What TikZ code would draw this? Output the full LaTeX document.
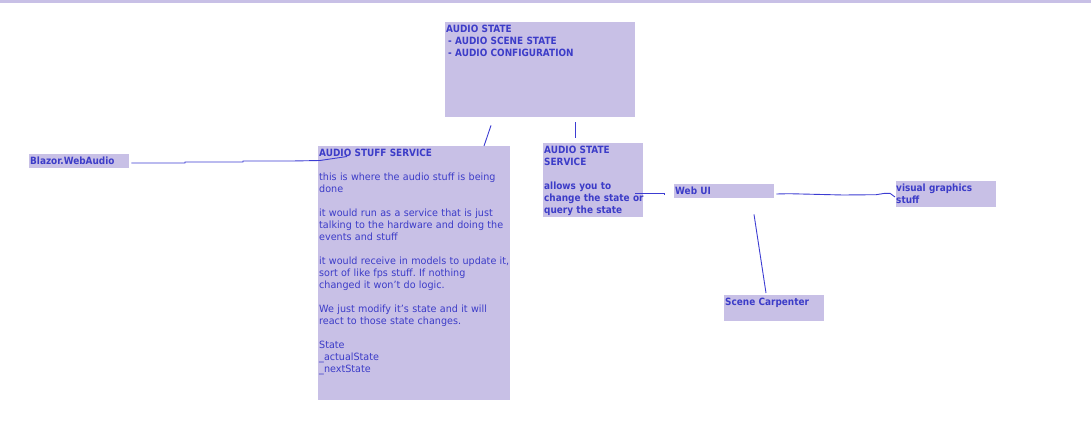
\documentclass[tikz,border=0pt]{standalone}
\usepackage{fontspec}
\setmainfont{DejaVu Sans}[UprightFeatures={FakeStretch=0.96}, BoldFeatures={FakeStretch=0.89}]
\usetikzlibrary{calc}
\definecolor{boxfill}{RGB}{200,192,230}
\definecolor{txtblue}{RGB}{60,60,200}
\definecolor{linecol}{RGB}{60,60,210}
\newcommand{\apos}{\symbol{39}}
\frenchspacing
\begin{document}
\begin{tikzpicture}[x=1pt,y=-1pt,
  box/.style={fill=boxfill, draw=none, inner sep=0pt, anchor=north west},
  txt/.style={text=txtblue, inner sep=0pt, anchor=base west, align=left, text width=#1, font=\fontsize{10}{12}\selectfont},
  txt/.default=200pt,
  conn/.style={draw=linecol, line width=0.9pt}]
\useasboundingbox (0,0) rectangle (1091,442);
\fill[boxfill] (0,0) rectangle (1091,3);
% boxes
\node[box, minimum width=190pt, minimum height=95pt] (as) at (445,22) {};
\node[box, minimum width=192pt, minimum height=254pt] (ss) at (318,146) {};
\node[box, minimum width=100pt, minimum height=74pt] (ass) at (543,143) {};
\node[box, minimum width=100pt, minimum height=14pt] (bw) at (29,154) {};
\node[box, minimum width=100pt, minimum height=14pt] (web) at (674,184) {};
\node[box, minimum width=100pt, minimum height=26pt] (vis) at (896,181) {};
\node[box, minimum width=100pt, minimum height=26pt] (sc) at (724,295) {};
% texts
\node[txt] (ast) at ([shift={(1,10.5)}]as.north west) {\bfseries AUDIO STATE\\\hspace{2pt}- AUDIO SCENE STATE\\\hspace{2pt}- AUDIO CONFIGURATION};
\node[txt] (sst) at ([shift={(1,10)}]ss.north west) {\textbf{AUDIO STUFF SERVICE}\\[12pt]
this is where the audio stuff is being\\done\\[12pt]
it would run as a service that is just\\talking to the hardware and doing the\\events and stuff\\[12pt]
it would receive in models to update it,\\sort of like fps stuff. If nothing\\changed it won\apos t do logic.\\[12pt]
We just modify it\apos s state and it will\\react to those state changes.\\[12pt]
State\\\_actualState\\\_nextState};
\node[txt] (asst) at ([shift={(1,10)}]ass.north west) {\bfseries AUDIO STATE\\SERVICE\\[12pt]allows you to\\change the state or\\query the state};
\node[txt] (bwt) at ([shift={(1,10)}]bw.north west) {\bfseries Blazor.WebAudio};
\node[txt] (webt) at ([shift={(1,10)}]web.north west) {\bfseries Web UI};
\node[txt] (vist) at ([shift={(0,10)}]vis.north west) {\bfseries visual graphics\\stuff};
\node[txt] (sct) at ([shift={(1,10)}]sc.north west) {\bfseries Scene Carpenter};
% connectors
\draw[conn] ([shift={(46,8)}]as.south west) -- ([shift={(166,0)}]ss.north west);
\draw[conn] ([shift={(130,5)}]as.south west) -- ([shift={(32,-5)}]ass.north west);
\draw[conn] ([shift={(2,9)}]bw.north east) -- (185,163) -- (185,162) -- (243,162) -- (243,161) -- (292,161) -- (320,160.5) -- (330,159) -- ([shift={(29,10.5)}]ss.north west);
\draw[conn] ([shift={(-8,50)}]ass.north east) -- (664,193) -- ([shift={(-10,11)}]web.north west);
\draw[conn] ([shift={(2,10)}]web.north east) -- (789,193.7) -- (843,195) -- (876,194.7) -- (885,193.3) -- (890,193.3) -- ([shift={(-1,16)}]vis.north west);
\draw[conn] ([shift={(80,16)}]web.south west) -- ([shift={(42,-2)}]sc.north west);
\end{tikzpicture}
\end{document}
